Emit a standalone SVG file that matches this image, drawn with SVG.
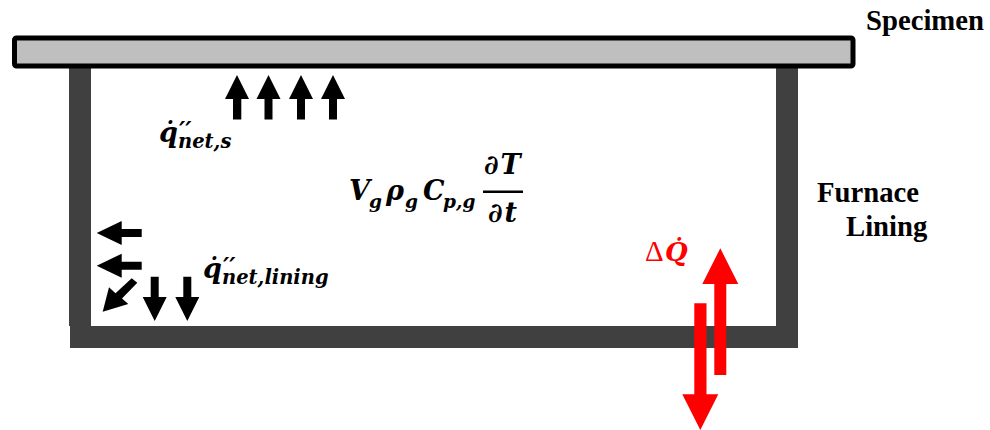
<svg xmlns="http://www.w3.org/2000/svg" width="990" height="430" viewBox="0 0 990 430">
<style>
.wall{fill:#404040}
.lab{font-family:"Liberation Serif","Times New Roman",serif;font-weight:bold;font-size:28.700px;fill:#000}
.m{font-family:"DejaVu Serif",serif;font-weight:bold;font-style:italic;fill:#000}
.big{font-size:27px}
.q{font-size:27px}
.sub{font-size:19.500px}
.sub2{font-size:18.500px}
.pr{font-size:24px}
.r{fill:#f00}
.k{fill:#000}
</style>
<rect width="990" height="430" fill="#fff"/>
<g id="furnace-lining">
<path class="wall" d="M69 66H91V326H776V66H798V348H70V326H69Z"/>
</g>
<g id="specimen">
<rect x="14.500" y="38" width="838.500" height="28" rx="2" fill="#bfbfbf" stroke="#000" stroke-width="5"/>
<text class="lab" x="866" y="30">Specimen</text>
</g>
<g id="furnace-lining-label">
<text class="lab" x="817" y="202">Furnace</text>
<text class="lab" x="846" y="236">Lining</text>
</g>
<g id="connectors">
<g class="k">
<polygon id="s1" points="237,75 249,99 241.300,99 241.300,119.500 233,119.500 233,99 225,99"/>
<polygon id="s2" points="268.500,75 280.500,99 272.500,99 272.500,119.500 264.500,119.500 264.500,99 256.500,99"/>
<polygon id="s3" points="301,75 313,99 305,99 305,119.500 297,119.500 297,99 289,99"/>
<polygon id="s4" points="333,75 345,99 337,99 337,119.500 329,119.500 329,99 321,99"/>
<polygon id="l1" points="96.700,233 121.700,221 121.700,229 141.700,229 141.700,237 121.700,237 121.700,245"/>
<polygon id="l2" points="96.700,265.700 121.700,253.700 121.700,261.700 141.700,261.700 141.700,269.700 121.700,269.700 121.700,277.700"/>
<polygon id="l3" points="102.700,311.700 109,287.300 115.500,293.200 131.700,278.300 137.300,282.700 122,298.500 128.300,304"/>
<polygon id="l4" points="154.700,321 142.700,297 150.700,297 150.700,276.700 158.700,276.700 158.700,297 166.700,297"/>
<polygon id="l5" points="187.300,321 175.300,297 183.300,297 183.300,276.700 191.300,276.700 191.300,297 199.300,297"/>
</g>
<g class="r">
<polygon id="q-up" points="720.300,248.300 738.300,284 726.300,284 726.300,375 714.300,375 714.300,284 702.300,284"/>
<polygon id="q-down" points="700.300,430 682.300,394.300 694.300,394.300 694.300,303.300 706.500,303.300 706.500,394.300 718.300,394.300"/>
</g>
</g>
<g id="label-net-s">
<text class="m q" x="159" y="142">q&#x307;<tspan class="pr" x="179" y="139">′′</tspan><tspan class="sub" x="178" y="148">net,s</tspan></text>
</g>
<g id="label-net-lining">
<text class="m q" x="203" y="278">q&#x307;<tspan class="pr" x="223" y="275">′′</tspan><tspan class="sub" x="222" y="284">net,lining</tspan></text>
</g>
<g id="label-energy">
<text class="m big" x="349" y="200">V<tspan class="sub2" x="369" y="208">g</tspan><tspan x="386" y="200">ρ</tspan><tspan class="sub2" x="405" y="208">g</tspan><tspan x="423" y="200">C</tspan><tspan class="sub2" x="443" y="208">p,g</tspan></text>
<text class="m big" x="484" y="174" letter-spacing="2">∂T</text>
<rect x="483" y="190.500" width="40" height="2.500" fill="#000"/>
<text class="m big" x="488" y="222" letter-spacing="2">∂t</text>
</g>
<g id="label-delta-q">
<text x="645" y="261" font-family="Liberation Serif,serif" font-size="29" fill="#f00">Δ<tspan x="665" font-family="DejaVu Serif,serif" font-weight="bold" font-style="italic" font-size="26">Q&#x307;</tspan></text>
</g>
</svg>
